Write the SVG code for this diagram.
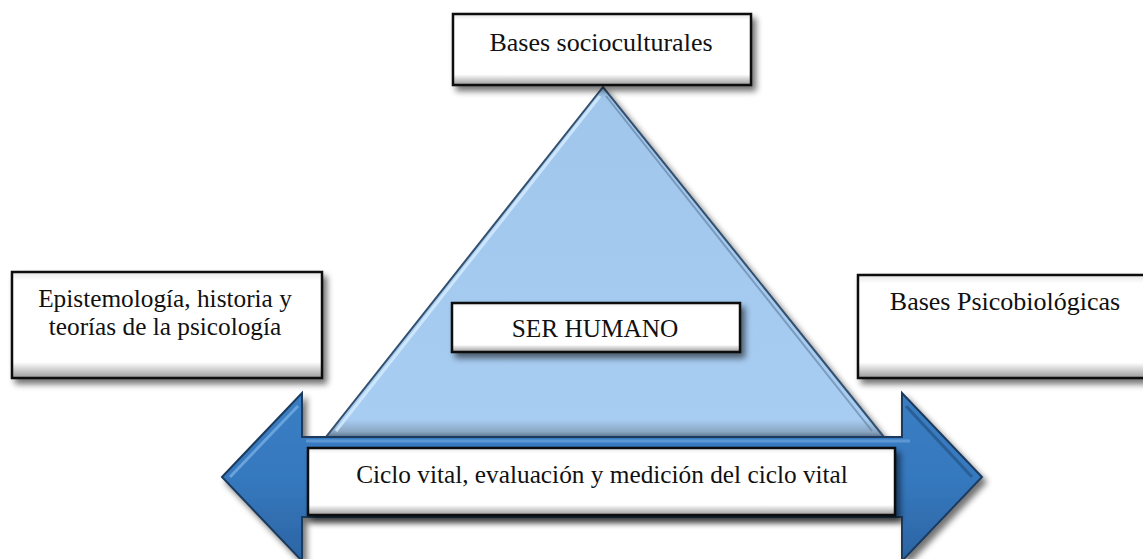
<svg xmlns="http://www.w3.org/2000/svg" width="1143" height="559" viewBox="0 0 1143 559">
<defs>
<filter id="shadow" x="-10%" y="-20%" width="130%" height="150%">
<feGaussianBlur in="SourceAlpha" stdDeviation="3"/>
<feOffset dx="4" dy="5" result="b"/>
<feComponentTransfer><feFuncA type="linear" slope="0.55"/></feComponentTransfer>
<feMerge><feMergeNode/><feMergeNode in="SourceGraphic"/></feMerge>
</filter>
<linearGradient id="boxV" x1="0" y1="0" x2="0" y2="1">
<stop offset="0" stop-color="#e6e6e6"/>
<stop offset="0.08" stop-color="#ffffff"/>
<stop offset="0.85" stop-color="#ffffff"/>
<stop offset="1" stop-color="#9a9a9a"/>
</linearGradient>
<linearGradient id="triFill" x1="0" y1="0" x2="0" y2="1">
<stop offset="0" stop-color="#a0c6ec"/>
<stop offset="0.95" stop-color="#a8cdf2"/>
<stop offset="0.985" stop-color="#8aa6c2"/>
<stop offset="1" stop-color="#5d7590"/>
</linearGradient>
<linearGradient id="arrowFill" x1="0" y1="0" x2="0" y2="1">
<stop offset="0" stop-color="#3a7cc2"/>
<stop offset="0.5" stop-color="#3679bf"/>
<stop offset="1" stop-color="#2b64a3"/>
</linearGradient>
<style>
.box{fill:url(#boxV);stroke:#111;stroke-width:2.5;filter:url(#shadow)}
.lbl{font-family:"Liberation Serif","Times New Roman",serif;font-size:26px;fill:#111;text-anchor:middle}
.lbl-sm{font-size:25.3px}
</style>
</defs>
<rect width="1143" height="559" fill="#ffffff"/>

<g id="triangle">
<polygon points="603,87 326,437 884,437" fill="url(#triFill)" stroke="#34506e" stroke-width="2" filter="url(#shadow)"/>
<polyline points="600,96 336,431" fill="none" stroke="#d6ecff" stroke-width="3" opacity="0.8"/>
<polyline points="606,96 872,431" fill="none" stroke="#5f7c99" stroke-width="2" opacity="0.6"/>
</g>

<g id="connectors">
<polygon points="222,477 302,393 302,437 902,437 902,393 982,477 902,561 902,517 302,517 302,561" fill="url(#arrowFill)" stroke="#1c3a5c" stroke-width="2" filter="url(#shadow)"/>
<polyline points="230,477 298,406" fill="none" stroke="#6aa3dc" stroke-width="3"/>
<polyline points="306,441 910,441" fill="none" stroke="#5c97d4" stroke-width="3"/>
<polyline points="906,406 972,477" fill="none" stroke="#2a5f96" stroke-width="3"/>
</g>

<g id="node-top">
<rect class="box" x="453" y="14" width="298" height="71"/>
<text class="lbl" x="601" y="51">Bases socioculturales</text>
</g>

<g id="node-left">
<rect class="box" x="12" y="272" width="310" height="106"/>
<text class="lbl lbl-sm" x="165" y="307">Epistemología, historia y</text>
<text class="lbl lbl-sm" x="165" y="335">teorías de la psicología</text>
</g>

<g id="node-right">
<rect class="box" x="858" y="275" width="295" height="103"/>
<text class="lbl" x="1005" y="310">Bases Psicobiológicas</text>
</g>

<g id="node-center">
<rect class="box" x="452" y="303" width="288" height="49"/>
<text class="lbl lbl-sm" x="595" y="337">SER HUMANO</text>
</g>

<g id="node-bottom">
<rect class="box" x="308" y="448" width="587" height="67"/>
<text class="lbl lbl-sm" x="602" y="483">Ciclo vital, evaluación y medición del ciclo vital</text>
</g>
</svg>
